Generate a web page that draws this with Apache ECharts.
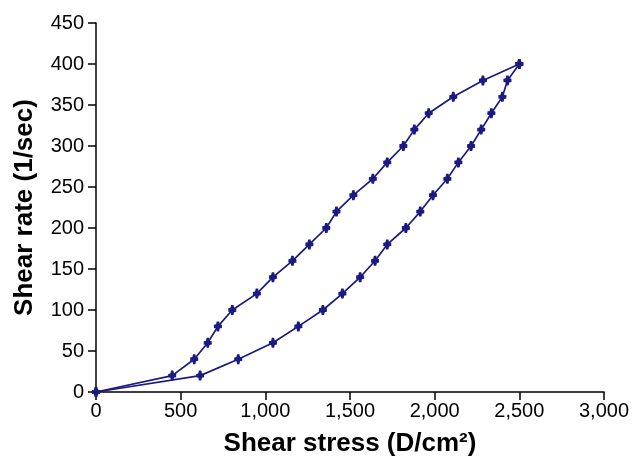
<!DOCTYPE html>
<html>
<head>
<meta charset="utf-8">
<script src="https://cdn.jsdelivr.net/npm/echarts@6/dist/echarts.min.js"></script>
<style>html,body{margin:0;padding:0;background:#fff;}#c{width:632px;height:463px;}</style>
</head>
<body>
<div id="c"></div>
<script>
// Up curve (increasing shear rate)
var upStress = [0, 450, 580, 660, 720, 805, 950, 1045, 1160, 1260, 1360, 1420, 1520, 1635, 1720, 1815, 1880, 1965, 2110, 2285, 2500];
var upRate   = [0, 20, 40, 60, 80, 100, 120, 140, 160, 180, 200, 220, 240, 260, 280, 300, 320, 340, 360, 380, 400];
// Down curve (decreasing shear rate)
var downStress = [2500, 2430, 2400, 2335, 2275, 2215, 2140, 2075, 1990, 1915, 1830, 1720, 1648, 1560, 1455, 1340, 1195, 1045, 840, 615, 0];
var downRate   = [400, 380, 360, 340, 320, 300, 280, 260, 240, 220, 200, 180, 160, 140, 120, 100, 80, 60, 40, 20, 0];
var xTicks = [0, 500, 1000, 1500, 2000, 2500, 3000];
var yTicks = [0, 50, 100, 150, 200, 250, 300, 350, 400, 450];

function pairs(xs, ys) { return xs.map(function (x, i) { return [x, ys[i]]; }); }

var color = '#1a1a82';
var marker = 'path://M-1.2,-6 L1.2,-6 L1.8,-2.6 L4,-2 L4,2 L1.8,2.6 L1.2,6 L-1.2,6 L-1.8,2.6 L-4,2 L-4,-2 L-1.8,-2.6 Z';
var font = 'Liberation Sans, Arial, sans-serif';

var chart = echarts.init(document.getElementById('c'), null, { renderer: 'canvas' });
chart.setOption({
  animation: false,
  backgroundColor: '#ffffff',
  grid: { left: 96, right: 28, top: 23, bottom: 71, containLabel: false },
  xAxis: {
    type: 'value', min: xTicks[0], max: xTicks[xTicks.length - 1], interval: 500,
    name: 'Shear stress (D/cm²)', nameLocation: 'middle', nameGap: 39,
    nameTextStyle: { fontFamily: font, fontWeight: 'bold', fontSize: 26, color: '#000' },
    axisLine: { show: true, onZero: false, lineStyle: { color: '#000', width: 1.5 } },
    axisTick: { show: true, inside: false, length: 8, lineStyle: { color: '#000', width: 1.5 } },
    axisLabel: { fontFamily: font, fontSize: 20, color: '#000', margin: 9,
      formatter: function (v) { return v.toString().replace(/\B(?=(\d{3})+(?!\d))/g, ','); } },
    splitLine: { show: false }
  },
  yAxis: {
    type: 'value', min: yTicks[0], max: yTicks[yTicks.length - 1], interval: 50,
    name: 'Shear rate (1/sec)', nameLocation: 'middle', nameGap: 58,
    nameTextStyle: { fontFamily: font, fontWeight: 'bold', fontSize: 26, color: '#000' },
    axisLine: { show: true, lineStyle: { color: '#000', width: 1.5 } },
    axisTick: { show: true, inside: false, length: 8, lineStyle: { color: '#000', width: 1.5 } },
    axisLabel: { fontFamily: font, fontSize: 20, color: '#000', margin: 12 },
    splitLine: { show: false }
  },
  series: [
    {
      type: 'line', data: pairs(upStress, upRate), symbol: marker, symbolSize: [8, 10],
      showAllSymbol: true, lineStyle: { color: color, width: 1.7 }, itemStyle: { color: color }
    },
    {
      type: 'line', data: pairs(downStress, downRate), symbol: marker, symbolSize: [8, 10],
      showAllSymbol: true, lineStyle: { color: color, width: 1.7 }, itemStyle: { color: color }
    }
  ]
});
</script>
</body>
</html>
